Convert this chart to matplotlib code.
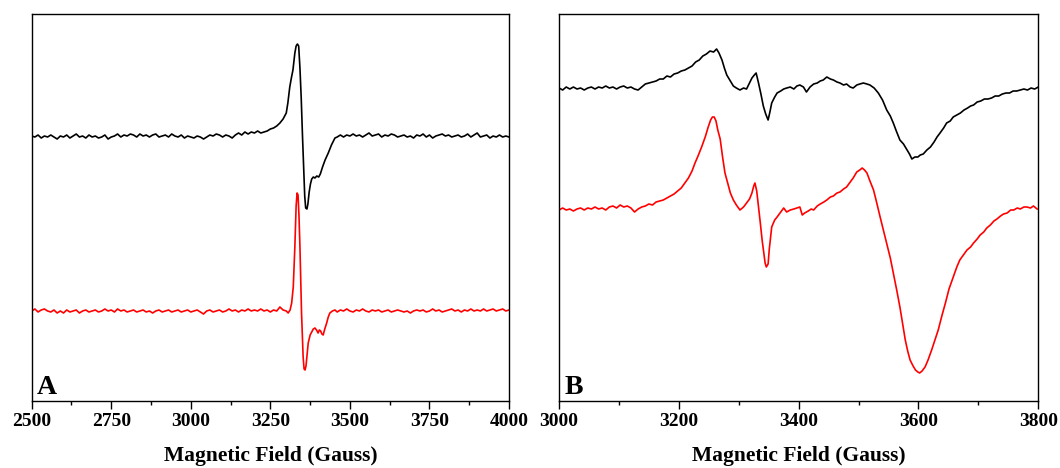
import numpy as np
import matplotlib
matplotlib.use('Agg')
import matplotlib.pyplot as plt
from matplotlib.ticker import MultipleLocator

# Шрифт как в оригинале (Times New Roman bold -> Liberation Serif)
plt.rcParams['font.family'] = ['Liberation Serif', 'DejaVu Serif']
plt.rcParams['font.weight'] = 'bold'

# ---- Панель A: (поле, Гс; сигнал, у.е. относительно базовой линии) ----
a_black = [
    (2500, 0), (2510, -1), (2520, 1), (2530, -2), (2540, 0), (2550, -1), (2560, 1), (2570, -1), (2580, -3), (2590, 0),
    (2600, -1), (2610, 1), (2620, -2), (2630, 0), (2640, 2), (2650, -1), (2660, 0), (2670, -2), (2680, 1), (2690, -1),
    (2700, 0), (2710, -2), (2720, -1), (2730, 1), (2740, -3), (2750, -1), (2760, 0), (2770, 2), (2780, -1), (2790, 1),
    (2800, 0), (2810, 2), (2820, 1), (2830, -1), (2840, 2), (2850, 0), (2860, 1), (2870, -1), (2880, 1), (2890, 2),
    (2900, -1), (2910, 0), (2920, 1), (2930, -1), (2940, 2), (2950, 0), (2960, -1), (2970, 1), (2980, -2), (2990, 0),
    (3000, -1), (3010, -2), (3020, 0), (3030, -1), (3040, -3), (3050, -1), (3060, 1), (3070, 0), (3080, 2), (3090, 1),
    (3100, -1), (3110, 1), (3120, 0), (3130, -2), (3140, 1), (3150, 3), (3160, 1), (3170, 4), (3180, 2), (3190, 4),
    (3200, 3), (3210, 5), (3220, 3), (3230, 4), (3240, 5), (3250, 7), (3260, 8), (3270, 10), (3280, 13), (3290, 17),
    (3300, 23), (3305, 33), (3311, 49), (3316, 58), (3321, 66), (3327, 83), (3331, 90), (3335, 92), (3339, 90),
    (3343, 68), (3347, 38), (3351, 0), (3355, -34), (3358, -60), (3361, -72), (3365, -73), (3368, -68), (3372, -56),
    (3376, -48), (3380, -43), (3385, -41), (3390, -42), (3396, -40), (3402, -41), (3407, -38), (3414, -31),
    (3422, -24), (3432, -17), (3442, -9), (3453, -2), (3460, -1), (3470, 1), (3480, -1), (3490, 1), (3500, 0),
    (3510, 2), (3520, 0), (3530, 1), (3540, -1), (3550, 1), (3560, 3), (3570, 0), (3580, 1), (3590, 2), (3600, -1),
    (3610, 1), (3620, 0), (3630, 2), (3640, 1), (3650, -1), (3660, 0), (3670, 1), (3680, -1), (3690, 0), (3700, -2),
    (3710, 1), (3720, 0), (3730, 2), (3740, -1), (3750, 1), (3760, -2), (3770, 0), (3780, 1), (3790, 2), (3800, 0),
    (3810, 1), (3820, -1), (3830, 0), (3840, 1), (3850, -1), (3860, 0), (3870, 2), (3880, -1), (3890, 1), (3900, 3),
    (3910, -1), (3920, 0), (3930, 1), (3940, -2), (3950, 0), (3960, -1), (3970, 1), (3980, -1), (3990, 0), (4000, -1),
]

a_red = [
    (2500, 0), (2510, 2), (2520, -1), (2530, 1), (2540, 2), (2550, 0), (2560, -1), (2570, 1), (2580, -2), (2590, 0),
    (2600, -2), (2610, 1), (2620, -1), (2630, 0), (2640, 1), (2650, -2), (2660, 0), (2670, 1), (2680, -1), (2690, 0),
    (2700, 1), (2710, -1), (2720, 0), (2730, 2), (2740, 0), (2750, 1), (2760, -1), (2770, 2), (2780, 0), (2790, 1),
    (2800, -1), (2810, 0), (2820, 1), (2830, -1), (2840, 0), (2850, 1), (2860, -1), (2870, 0), (2880, -2), (2890, 0),
    (2900, 1), (2910, -1), (2920, 0), (2930, 1), (2940, -1), (2950, 0), (2960, 1), (2970, -1), (2980, 0), (2990, 1),
    (3000, -1), (3010, 0), (3020, 1), (3030, -1), (3040, -3), (3050, 0), (3060, 1), (3070, -1), (3080, 0), (3090, 1),
    (3100, -1), (3110, 0), (3120, 2), (3130, 0), (3140, 1), (3150, -1), (3160, 1), (3170, 0), (3180, 2), (3190, 0),
    (3200, 1), (3210, 0), (3220, 2), (3230, 0), (3240, 1), (3250, -1), (3260, 1), (3270, 0), (3280, 4), (3290, 1),
    (3300, 0), (3306, -2), (3312, 1), (3317, 8), (3322, 24), (3327, 64), (3331, 105), (3334, 118), (3337, 116),
    (3340, 95), (3343, 64), (3348, -2), (3353, -46), (3356, -58), (3359, -59), (3362, -55), (3366, -42), (3369, -32),
    (3375, -24), (3380, -21), (3385, -18), (3390, -17), (3395, -19), (3400, -22), (3404, -19), (3408, -20),
    (3412, -23), (3416, -24), (3421, -18), (3427, -12), (3432, -6), (3437, -2), (3445, 0), (3453, 1), (3460, -1),
    (3470, 1), (3480, 0), (3490, 2), (3500, 0), (3510, -1), (3520, 1), (3530, 0), (3540, 2), (3550, 0), (3560, -1),
    (3570, 1), (3580, 0), (3590, 1), (3600, -1), (3610, 0), (3620, 1), (3630, -1), (3640, 0), (3650, 1), (3660, 0),
    (3670, -1), (3680, 0), (3690, -2), (3700, 0), (3710, 1), (3720, 0), (3730, 1), (3740, -1), (3750, 0), (3760, 2),
    (3770, 0), (3780, 1), (3790, -1), (3800, 0), (3810, 1), (3820, 2), (3830, 0), (3840, 1), (3850, -1), (3860, 1),
    (3870, 0), (3880, 2), (3890, 0), (3900, 1), (3910, 0), (3920, 2), (3930, 0), (3940, 1), (3950, 2), (3960, 0),
    (3970, 1), (3980, 2), (3990, 0), (4000, 1),
]

# ---- Панель B ----
b_black = [
    (3000, 0), (3006, -2), (3012, 1), (3018, -1), (3024, 1), (3030, -1), (3036, 0), (3042, -2), (3048, 0), (3054, 1),
    (3060, -1), (3066, 1), (3072, 0), (3078, 2), (3084, 0), (3090, 1), (3096, -1), (3102, 1), (3108, 2), (3114, 0),
    (3120, 1), (3126, -1), (3132, -2), (3138, 1), (3144, 4), (3150, 5), (3156, 6), (3162, 7), (3168, 9), (3174, 9),
    (3180, 12), (3186, 11), (3192, 14), (3198, 15), (3204, 17), (3210, 18), (3216, 20), (3222, 22), (3228, 26),
    (3234, 28), (3240, 32), (3246, 34), (3252, 37), (3258, 36), (3263, 39), (3267, 35), (3272, 28), (3276, 20),
    (3280, 13), (3285, 8), (3291, 2), (3296, 0), (3302, -2), (3308, 0), (3313, -1), (3318, 5), (3322, 10), (3326, 13),
    (3329, 15), (3333, 5), (3337, -6), (3341, -18), (3345, -26), (3349, -32), (3352, -24), (3355, -15), (3360, -9),
    (3364, -5), (3370, -3), (3375, -1), (3380, 0), (3386, 1), (3392, -1), (3397, 2), (3402, 3), (3408, 1),
    (3413, -4), (3419, 1), (3425, 4), (3431, 5), (3436, 7), (3441, 8), (3447, 11), (3453, 9), (3458, 8), (3464, 6),
    (3469, 5), (3475, 3), (3480, 4), (3486, 1), (3491, 0), (3497, 3), (3502, 4), (3508, 5), (3514, 4), (3519, 3),
    (3526, 0), (3533, -5), (3540, -12), (3547, -22), (3553, -28), (3558, -35), (3563, -43), (3569, -52), (3575, -56),
    (3581, -62), (3585, -66), (3589, -71), (3594, -69), (3599, -69), (3603, -67), (3608, -66), (3614, -62),
    (3620, -59), (3626, -54), (3631, -49), (3636, -45), (3642, -40), (3647, -35), (3653, -33), (3658, -29),
    (3664, -27), (3670, -25), (3676, -22), (3682, -20), (3687, -18), (3692, -17), (3698, -14), (3704, -13),
    (3710, -11), (3716, -11), (3722, -10), (3728, -8), (3734, -8), (3740, -6), (3746, -5), (3752, -5), (3758, -3),
    (3764, -3), (3770, -2), (3776, -1), (3782, -2), (3788, 0), (3794, -1), (3800, 1),
]

b_red = [
    (3000, -1), (3006, 1), (3012, -1), (3018, 0), (3024, -2), (3030, 0), (3036, 1), (3042, -1), (3048, 1), (3054, 0),
    (3060, 2), (3066, 0), (3072, 1), (3078, -1), (3084, 2), (3090, 3), (3096, 1), (3102, 4), (3108, 2), (3114, 3),
    (3120, 1), (3126, -3), (3132, 0), (3138, 2), (3144, 3), (3150, 5), (3156, 4), (3162, 7), (3168, 8), (3174, 9),
    (3180, 11), (3186, 13), (3192, 15), (3198, 18), (3204, 21), (3210, 26), (3216, 31), (3222, 38), (3227, 46),
    (3232, 53), (3238, 62), (3244, 72), (3249, 82), (3253, 89), (3256, 92), (3259, 92), (3262, 88), (3265, 79),
    (3269, 70), (3273, 52), (3277, 36), (3281, 27), (3286, 16), (3291, 9), (3296, 4), (3302, -1), (3308, 2),
    (3313, 6), (3318, 10), (3322, 16), (3325, 23), (3327, 26), (3330, 18), (3333, 2), (3336, -14), (3339, -31),
    (3342, -45), (3344, -54), (3346, -58), (3349, -55), (3351, -40), (3355, -18), (3360, -11), (3364, -8), (3370, -3),
    (3375, 1), (3380, -3), (3386, -1), (3392, 0), (3397, 1), (3402, 2), (3406, -6), (3410, -4), (3416, -2), (3421, 0),
    (3425, -1), (3431, 3), (3436, 5), (3442, 7), (3447, 9), (3453, 12), (3458, 13), (3464, 16), (3469, 17), (3475, 20),
    (3480, 22), (3486, 27), (3491, 31), (3497, 37), (3502, 39), (3506, 41), (3510, 39), (3514, 36), (3519, 28),
    (3525, 19), (3530, 7), (3536, -8), (3541, -20), (3547, -34), (3553, -49), (3558, -64), (3564, -82), (3569, -98),
    (3574, -116), (3578, -131), (3582, -142), (3586, -151), (3591, -157), (3595, -161), (3599, -163), (3602, -164),
    (3606, -162), (3611, -158), (3616, -151), (3622, -141), (3627, -132), (3633, -121), (3639, -107), (3645, -94),
    (3651, -80), (3658, -68), (3664, -58), (3669, -51), (3675, -46), (3681, -41), (3687, -38), (3692, -34),
    (3698, -30), (3703, -26), (3709, -23), (3714, -19), (3720, -16), (3726, -12), (3731, -10), (3737, -7),
    (3742, -5), (3748, -4), (3754, -1), (3759, -1), (3765, 1), (3770, 0), (3776, 2), (3781, 2), (3787, 1),
    (3792, 3), (3798, 0),
]

# смещения спектров по вертикали (у.е.)
offset_a = {'black': 265, 'red': 90}
offset_b = {'black': 313, 'red': 192}

fig = plt.figure(figsize=(10.6, 4.68), dpi=100)
ax_a = fig.add_axes([0.0299, 0.1432, 0.4503, 0.8262])
ax_b = fig.add_axes([0.5274, 0.1432, 0.4521, 0.8262])

panels = [
    (ax_a, 'A', a_black, a_red, offset_a, (2500, 4000), 250),
    (ax_b, 'B', b_black, b_red, offset_b, (3000, 3800), 200),
]

for ax, letter, black, red, offs, xlim, step in panels:
    for data, color in [(black, 'black'), (red, 'red')]:
        field, sig = np.array(data, dtype=float).T
        ax.plot(field, sig + offs[color], color=color, lw=1.2)
    ax.set_xlim(*xlim)
    ax.set_ylim(0, 386.7)
    ax.set_yticks([])
    ax.xaxis.set_major_locator(MultipleLocator(step))
    ax.xaxis.set_minor_locator(MultipleLocator(step / 2))
    ax.tick_params(axis='x', which='major', direction='out', length=6, width=1.0,
                   labelsize=14, pad=3)
    ax.tick_params(axis='x', which='minor', direction='out', length=3, width=1.0)
    for sp in ax.spines.values():
        sp.set_linewidth(1.0)
    ax.set_xlabel('Magnetic Field (Gauss)', fontsize=15.5, fontweight='bold', labelpad=11)
    ax.text(0.011, 0.018, letter, transform=ax.transAxes, fontsize=20,
            fontweight='bold', ha='left', va='baseline')

plt.savefig('out.png', dpi=100)
